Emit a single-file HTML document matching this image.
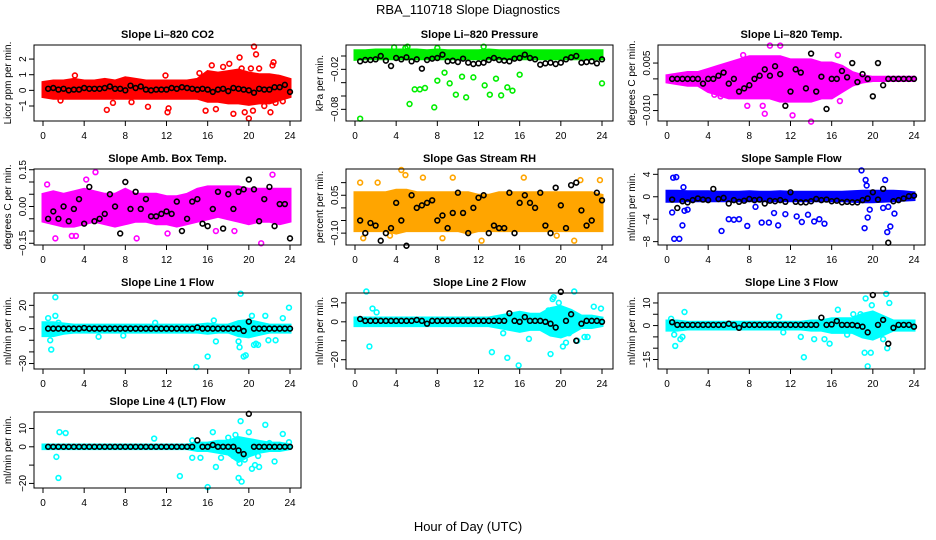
<!DOCTYPE html>
<html><head><meta charset="utf-8">
<style>
html,body{margin:0;padding:0;background:#fff;}
svg{display:block;font-family:"Liberation Sans",Arial,sans-serif;}
</style></head>
<body>
<svg id="chart" width="936" height="540" viewBox="0 0 936 540">
<text x="468" y="14" text-anchor="middle" font-size="13">RBA_110718  Slope Diagnostics</text>
<text x="468" y="531" text-anchor="middle" font-size="13">Hour of Day (UTC)</text>
</svg>
<script>
// shared data
const blackHours = [0.5,1,1.5,2,2.5,3,3.5,4,4.5,5,5.5,6,6.5,7,7.5,8,8.5,9,9.5,10,10.5,11,11.5,12,12.5,13,13.5,14,14.5,15,15.5,16,16.5,17,17.5,18,18.5,19,19.5,20,20.5,21,21.5,22,22.5,23,23.5,24];
const bandHours = [0,1,2,3,4,5,6,7,8,9,10,11,12,13,14,15,16,17,18,19,20,21,22,23,24];
const xTicks = [0,4,8,12,16,20,24];

// Panel 1: CO2
const co2Black = [0.1,0.15,0.05,0.1,0,0.05,0.05,0.15,0.1,0.1,0.1,0.15,0.25,0.1,0.1,0,0.3,0.15,0.25,0.05,0,0.05,0.05,0.05,0.15,0.1,0.2,0.15,0.1,0.05,0.1,0.05,-0.1,0.05,0.1,-0.05,0.15,0.1,0.05,0,-0.15,0.1,0.05,0.05,0.2,0.2,0.35,-0.1];
const co2Lo = [-0.4,-0.5,-0.5,-0.5,-0.5,-0.5,-0.5,-0.5,-0.5,-0.5,-0.5,-0.5,-0.5,-0.5,-0.5,-0.5,-0.7,-0.7,-0.8,-0.8,-0.9,-0.8,-0.8,-0.6,-0.4];
const co2Hi = [0.5,0.6,0.6,0.7,0.6,0.6,0.7,0.6,0.8,0.7,0.6,0.6,0.6,0.6,0.6,0.7,1.2,1.1,1.2,1.3,1.1,1.0,1.0,0.9,0.7];
const co2OutX = [1.7,3.1,6.2,6.8,8.6,10.2,11.9,12.1,12.2,15.2,15.8,16.4,16.8,17.5,18.1,18.5,19.1,19.3,19.6,20.0,20.4,20.5,20.7,21.0,21.5,22.1,22.4,22.3,22.6,22.8,20.2,23.3];
const co2OutY = [-0.65,0.95,-1.25,-0.8,-0.75,-1.05,0.95,-1.4,-1.15,1.1,-1.3,1.6,-1.2,1.5,1.7,-1.5,2.1,1.4,-1.4,-1.8,-1.3,2.8,2.3,1.4,-1.0,-1.4,1.8,1.6,-0.8,0.8,1.4,-0.7];
const co2Ticks = [-1,0,1,2];
const co2Labels = ["\u22121","0","1","2"];

// Panel 2: Pressure
const presBlack = [-0.008,-0.006,-0.006,-0.005,0.0,-0.007,-0.015,-0.003,-0.005,-0.002,-0.008,-0.005,-0.019,-0.006,-0.004,-0.003,0.002,-0.008,-0.007,-0.009,-0.004,-0.010,-0.012,-0.011,-0.010,-0.006,-0.003,-0.006,-0.007,-0.008,-0.004,-0.003,0.002,-0.003,-0.005,-0.013,-0.011,-0.010,-0.012,-0.010,-0.005,-0.002,0.0,-0.010,-0.009,-0.008,-0.011,-0.005];
const presLo = [-0.005,-0.004,-0.004,-0.004,-0.004,-0.004,-0.004,-0.004,-0.004,-0.004,-0.004,-0.004,-0.004,-0.004,-0.004,-0.004,-0.004,-0.004,-0.004,-0.004,-0.004,-0.004,-0.004,-0.004,-0.004];
const presHi = [0.008,0.008,0.009,0.009,0.009,0.009,0.009,0.008,0.009,0.008,0.008,0.008,0.008,0.009,0.008,0.008,0.008,0.008,0.008,0.008,0.008,0.008,0.008,0.008,0.008];
const presOutX = [0.5,5.3,5.8,6.3,6.8,7.7,8.0,8.7,9.2,9.8,10.4,10.8,11.5,12.6,13.1,13.7,14.2,14.8,15.3,16.0,24.0,4.9,3.8,8.0,12.5,5.1];
const presOutY = [-0.094,-0.072,-0.05,-0.05,-0.048,-0.077,-0.037,-0.025,-0.041,-0.058,-0.031,-0.062,-0.032,-0.044,-0.058,-0.034,-0.059,-0.047,-0.052,-0.028,-0.041,0.012,0.013,0.012,0.014,0.014];
const presTicks = [0,-0.02,-0.04,-0.06,-0.08];
const presLabels = ["","\u22120.02","","","\u22120.08"];

// Panel 3: Li-820 Temp
const tempBlack = [0,0,0,0,0,0,-0.0015,0,0,0.001,0.002,-0.0015,0,-0.004,-0.003,-0.002,0,0.001,0.003,0.001,0.004,0.0015,-0.0085,-0.004,0.003,0.002,-0.003,0.008,-0.004,0.0007,-0.0095,0,0,0.0025,0.0005,0.005,-0.001,0.0015,0,-0.0055,0.005,-0.002,0,0,0,0,0,0];
const tempLo = [-0.001,-0.0015,-0.002,-0.002,-0.004,-0.005,-0.006,-0.006,-0.006,-0.006,-0.006,-0.007,-0.007,-0.007,-0.007,-0.006,-0.006,-0.004,-0.002,-0.001,-0.0005,-0.0005,-0.0005,-0.0005,-0.0005];
const tempHi = [0.001,0.0015,0.002,0.002,0.003,0.004,0.005,0.006,0.007,0.007,0.007,0.007,0.006,0.006,0.006,0.005,0.005,0.004,0.002,0.001,0.0005,0.0005,0.0005,0.0005,0.0005];
const tempOutX = [9.5,14.0,7.8,9.3,10.0,11.0,7.4,12.2,16.6,16.8,4.6,5.2];
const tempOutY = [-0.011,-0.0135,-0.0085,-0.0085,0.0105,0.0105,0.0075,-0.0115,0.0075,-0.007,-0.005,-0.0055];
const tempTicks = [0.005,0,-0.005,-0.010];
const tempLabels = ["0.005","","","\u22120.010"];

// Panel 4: Amb Box Temp
const ambBlack = [-0.05,-0.02,-0.05,0,-0.06,-0.01,0.03,-0.07,0.08,-0.06,-0.05,-0.03,0.05,0,-0.11,0.1,-0.01,0.06,-0.01,0.03,-0.04,-0.04,-0.03,-0.02,-0.03,0.02,-0.1,-0.05,0.02,0.03,-0.07,-0.08,-0.01,0.06,-0.09,0.05,-0.01,0.06,0.07,0.11,0.07,-0.06,0.03,0.08,-0.08,0.01,0.01,-0.13];
const ambLo = [-0.06,-0.07,-0.08,-0.08,-0.07,-0.06,-0.07,-0.08,-0.07,-0.06,-0.06,-0.07,-0.07,-0.08,-0.07,-0.06,-0.05,-0.04,-0.05,-0.06,-0.07,-0.06,-0.06,-0.07,-0.06];
const ambHi = [0.05,0.06,0.05,0.06,0.07,0.06,0.05,0.05,0.07,0.05,0.05,0.05,0.04,0.04,0.05,0.07,0.08,0.08,0.08,0.08,0.07,0.07,0.07,0.07,0.07];
const ambOutX = [1.2,5.1,9.1,21.2,22.3,0.4,16.8,18.6,2.8,3.2,12.1,4.2];
const ambOutY = [-0.13,0.14,-0.13,-0.15,0.13,0.09,-0.1,-0.1,-0.12,-0.12,-0.11,0.11];
const ambTicks = [0.15,0.10,0.05,0,-0.05,-0.10,-0.15];
const ambLabels = ["0.15","","","0.00","","","\u22120.15"];

// Panel 5: Gas Stream RH
const rhBlack = [-0.05,-0.1,-0.06,-0.07,-0.13,-0.1,-0.08,0.02,-0.05,-0.15,0.05,0.0,0.01,0.02,0.03,-0.05,-0.03,-0.08,-0.02,0.06,-0.02,-0.1,0.0,0.04,0.05,-0.1,-0.07,-0.08,-0.08,0.06,-0.1,0.02,0.05,0.02,0.0,0.06,-0.07,-0.1,0.08,0.01,-0.08,0.09,0.1,-0.01,-0.07,-0.05,0.06,0.03];
const rhLo = [-0.09,-0.09,-0.09,-0.09,-0.1,-0.09,-0.09,-0.09,-0.09,-0.09,-0.09,-0.1,-0.09,-0.09,-0.09,-0.09,-0.09,-0.09,-0.09,-0.09,-0.09,-0.09,-0.09,-0.09,-0.09];
const rhHi = [0.06,0.06,0.06,0.06,0.07,0.07,0.06,0.06,0.06,0.06,0.06,0.06,0.05,0.05,0.06,0.06,0.06,0.06,0.06,0.06,0.06,0.06,0.06,0.06,0.05];
const rhOutX = [4.5,4.9,9.5,16.4,0.8,3.4,12.3,21.3,6.6,8.5,0.5,2.2,19.6,21.9,23.8];
const rhOutY = [0.15,0.13,0.12,0.12,-0.12,-0.11,-0.13,-0.13,0.12,-0.12,0.1,0.1,-0.11,0.11,0.11];
const rhTicks = [0.10,0.05,0,-0.05,-0.10];
const rhLabels = ["","0.05","","","\u22120.10"];

// Panel 6: Sample Flow
const sfBlack = [-0.5,-2,-0.8,-1,-0.6,-0.3,-0.5,-0.6,1.4,-0.4,-0.2,-1.2,-0.6,-0.9,-0.7,-0.4,-0.6,-0.5,-1.2,-0.7,-0.8,-0.6,-0.9,0.8,-0.9,-1,-1,-0.8,-0.4,-0.6,-0.5,-0.8,-0.7,-1,-0.9,-1,-1,-0.6,-0.3,0.8,-0.5,1.4,-8.2,-0.8,-0.6,-0.3,0.1,0.2];
const sfLo = [-0.8,-0.8,-0.7,-0.7,-0.7,-0.7,-0.7,-0.7,-0.7,-0.7,-0.7,-0.7,-0.7,-0.7,-0.7,-0.7,-0.7,-0.7,-0.8,-0.9,-0.9,-0.8,-0.7,-0.6,-0.5];
const sfHi = [1.0,1.0,0.9,0.9,0.9,0.8,0.8,0.8,0.9,0.8,0.8,0.9,0.8,0.8,0.8,0.8,0.8,0.8,0.9,1.0,1.0,1.0,1.0,0.9,0.7];
const sfOutX = [0.5,0.7,0.6,0.9,1.2,1.5,1.7,2.0,1.6,5.3,6.0,6.5,7.0,7.8,8.6,9.2,9.9,10.4,10.8,11.5,12.6,13.1,13.7,14.3,14.8,15.3,18.9,19.3,19.4,19.2,19.5,19.7,21.2,21.4,21.5,21.7,22.1,21.0];
const sfOutY = [-2.8,-7.5,3.4,3.5,-7.5,-5.1,-2.5,-2.3,1.7,-6.1,-4.0,-4.1,-4.0,-5.2,-1.8,-4.6,-4.6,-2.9,-5.1,-3.1,-3.5,-4.5,-3.2,-4.4,-4.0,-4.8,4.7,3.0,2.0,-5.6,-3.7,-2.3,3.0,-6.3,-1.8,-5.3,-3.0,-2.0];
const sfTicks = [4,0,-4,-8];
const sfLabels = ["4","0","\u22124","\u22128"];

// Panel 7: Line 1 Flow
const l1Black = [0,0,0,0,0,0,0,0.5,0,0,0,0,0,0,0,0,0,0,0,0,0,0,0,0,0,0,0,0,0,1,0,0,0,0,0,0,0,0,-2,6,0,0,0,0,0,0,0,0];
const l1Lo = [-6,-6,-4,-3,-3,-3,-3,-3,-3,-3,-3,-3,-3,-3,-3,-3,-4,-3,-3,-6,-7,-5,-3,-3,-3];
const l1Hi = [5,5,4,3,3,3,3,3,3,3,3,3,3,3,3,3,4,3,3,6,7,5,3,3,3];
const l1OutX = [1.2,0.5,1.2,0.8,0.7,1.5,14.9,16.0,16.6,16.8,19.2,19.1,19.5,19.7,20.3,20.5,20.7,20.9,21.6,21.9,22.6,23.3,23.9,19.0,5.4,7.8,10.9];
const l1OutY = [27,9,11,-18,-10,5,-33,-24,7,-11,30,-16,-24,-23,11,-14,-13,-14,11,-10,-10,9,18,-11,-7,-6,5];
const l1Ticks = [20,10,0,-10,-20,-30];
const l1Labels = ["20","","0","","","\u221230"];

// Panel 8: Line 2 Flow
const l2Black = [1.5,0.5,0.5,0.5,0.5,0.5,0.5,0.5,0.5,0.5,0.5,1,0.5,-1,0.5,0.5,0.5,0.5,0.5,0.5,0.5,0.5,0.5,0.5,0.5,0.5,0.5,0.5,0.5,4.5,0.5,0,2.5,0.5,0.5,0.5,0,-1,-3,15.8,0.5,4,-10,-1,0.5,0.5,0.5,0];
const l2Lo = [-2,-2,-2,-2,-2,-2,-2,-2,-2,-2,-2,-2,-2,-2,-3,-4,-5,-4,-4,-7,-8,-6,-3,-3,-2];
const l2Hi = [2,2,2,2,2,2,2,2,2,2,2,2,2,2,3,4,5,4,4,7,8,6,3,3,2];
const l2OutX = [1.1,1.4,1.7,2.1,13.3,14.4,14.8,15.9,16.9,19.0,19.2,19.3,19.8,19.9,20.2,20.5,20.8,21.3,21.6,22.3,22.6,23.2,23.9,18.8];
const l2OutY = [16,-13,7,5,-16,-6,-19,-23,-9,-17,12,13,10,7,-13,-11,-6,16,-10,-8,-8,8,7,6];
const l2Ticks = [10,0,-10,-20];
const l2Labels = ["10","0","","\u221220"];

// Panel 9: Line 3 Flow
const l3Black = [1.5,0.3,0.3,0.3,0.3,0.3,0.3,0.3,0.3,0.3,0.3,0.8,0.3,-1,0.3,0.3,0.3,0.3,0.3,0.3,0.3,0.3,0.3,0.3,0.3,0.3,0.3,0.3,0.3,3.5,0.3,0.5,2,0.3,0.3,0.3,0,-0.5,-3,13.5,0.3,2.5,-8,-1,0.3,0.3,0.3,-0.5];
const l3Lo = [-2,-2,-1.5,-1.5,-1.5,-1.5,-1.5,-1.5,-1.5,-1.5,-1.5,-1.5,-1.5,-1.5,-2,-2,-3,-3,-3,-5,-6,-4,-2,-2,-2];
const l3Hi = [2,2,1.5,1.5,1.5,1.5,1.5,1.5,1.5,1.5,1.5,1.5,1.5,1.5,2,2,3,3,3,5,6,4,2,2,2];
const l3OutX = [0.4,0.7,0.8,1.3,1.5,1.7,10.9,11.3,13.0,13.3,14.3,15.3,15.8,16.6,17.5,18.1,18.8,19.2,19.5,19.3,19.8,19.9,21.0,21.3,21.6,21.4,20.5];
const l3OutY = [3,-4,-9,-6,-5,6,4,-3,-5,-14,-6,-6,-8,7,-4,5,5,-12,-18,12,-12,9,-6,14,10,-10,-4];
const l3Ticks = [10,5,0,-5,-10,-15];
const l3Labels = ["10","","0","","","\u221215"];

// Panel 10: Line 4 (LT) Flow
const l4Black = [0,0,0,0,0,0,0,0,0,0,0,0,0,0,0,0,0,0,0,0,0,0,0,0,0,0,0,0,0,3.5,0,0,1,0,0,0,0,-2,-4,18,0,0,0,0,0,0,0,0];
const l4Lo = [-1,-1,-1,-1,-1,-1,-1,-1,-1,-1,-1,-1,-1,-1,-1,-2,-2,-3,-4,-8,-5,-3,-2,-2,-1];
const l4Hi = [1,1,1,1,1,1,1,1,1,1,1,1,1,1,1,2,2,3,3,5,4,3,2,2,1];
const l4OutX = [1.3,1.5,1.6,2.2,10.8,13.3,14.5,14.5,15.3,16.0,16.5,16.8,17.3,18.0,18.5,18.7,19.0,19.3,19.2,19.1,20.0,20.3,20.6,21.0,21.6,22.0,22.5,23.3,23.9,20.9,19.6];
const l4OutY = [-5.5,-17,8,7.5,4.5,-16,-6,3.5,-6,-22,8,-11,-6,5,-5,6.5,-17,-19,14,-9,8,-12,-10,-11,12,2,-8,7,2.5,-5,-7];
const l4Ticks = [10,0,-10,-20];
const l4Labels = ["10","0","","\u221220"];

const NS = "http://www.w3.org/2000/svg";
const svg = document.getElementById("chart");
const colLeft = [34, 346, 658];
const rowTop = [45, 169, 293, 412];
const BOXW = 267, BOXH = 76;

function mk(tag, attrs, parent) {
  const e = document.createElementNS(NS, tag);
  for (const k in attrs) e.setAttribute(k, attrs[k]);
  (parent || svg).appendChild(e);
  return e;
}

function drawPanel(p) {
  const L = colLeft[p.col], T = rowTop[p.row];
  const g = mk("g", {});
  
  
  const xs = h => L + 9 + h * (247 / 24);
  const ys = v => T + (p.ymax - v) / (p.ymax - p.ymin) * BOXH;

  const t = mk("text", {x: L + BOXW / 2, y: T - 7, "text-anchor": "middle", "font-size": 11, "font-weight": "bold"}, g);
  t.textContent = p.title;
  
  

  const yl = mk("text", {x: 0, y: 0, "text-anchor": "middle", "font-size": 10, transform: "translate(" + (L - 23) + "," + (T + BOXH / 2) + ") rotate(-90)"}, g);
  yl.textContent = p.ylab;
  
  

  // band
  let d = "";
  for (let i = 0; i < bandHours.length; i++) d += (i ? "L" : "M") + xs(bandHours[i]).toFixed(1) + "," + ys(p.hi[i]).toFixed(1);
  for (let i = bandHours.length - 1; i >= 0; i--) d += "L" + xs(bandHours[i]).toFixed(1) + "," + ys(p.lo[i]).toFixed(1);
  const band = mk("path", {d: d + "Z", fill: p.color, stroke: p.color, "stroke-width": 3}, g);
  
  

  for (let i = 0; i < p.outX.length; i++) {
    const c = mk("circle", {cx: xs(p.outX[i]), cy: ys(p.outY[i]), r: 2.4, fill: "none", stroke: p.color, "stroke-width": 1.6}, g);
    
    
  }
  for (let i = 0; i < p.black.length && i < blackHours.length; i++) {
    const c = mk("circle", {cx: xs(blackHours[i]), cy: ys(p.black[i]), r: 2.4, fill: "none", stroke: "#000", "stroke-width": 1.6}, g);
    
    
  }

  const box = mk("rect", {x: L, y: T, width: BOXW, height: BOXH, fill: "none", stroke: "#000", "stroke-width": 1}, g);
  
  

  // x axis
  for (const h of xTicks) {
    mk("line", {x1: xs(h), x2: xs(h), y1: T + BOXH, y2: T + BOXH + 5, stroke: "#000"}, g);
    const tl = mk("text", {x: xs(h), y: T + BOXH + 18, "text-anchor": "middle", "font-size": 10}, g);
    tl.textContent = h;
    
    
  }
  // y axis
  for (let i = 0; i < p.ticks.length; i++) {
    const y = ys(p.ticks[i]);
    mk("line", {x1: L - 5, x2: L, y1: y, y2: y, stroke: "#000"}, g);
    if (p.labels[i]) {
      const tl = mk("text", {x: 0, y: 0, "text-anchor": "middle", "font-size": 10, transform: "translate(" + (L - 8) + "," + y + ") rotate(-90)"}, g);
      tl.textContent = p.labels[i];
      
      
    }
  }
}

const panels = [
  {name:"co2", title:"Slope Li\u2013820 CO2", ylab:"Licor ppm per min.", col:0,row:0, ymin:-1.96,ymax:2.9, color:"#ff0000", black:co2Black, lo:co2Lo, hi:co2Hi, outX:co2OutX, outY:co2OutY, ticks:co2Ticks, labels:co2Labels},
  {name:"pressure", title:"Slope Li\u2013820 Pressure", ylab:"kPa per min.", col:1,row:0, ymin:-0.0975,ymax:0.0165, color:"#00ee00", black:presBlack, lo:presLo, hi:presHi, outX:presOutX, outY:presOutY, ticks:presTicks, labels:presLabels},
  {name:"li820-temp", title:"Slope Li\u2013820 Temp.", ylab:"degrees C per min.", col:2,row:0, ymin:-0.0133,ymax:0.0107, color:"#ff00ff", black:tempBlack, lo:tempLo, hi:tempHi, outX:tempOutX, outY:tempOutY, ticks:tempTicks, labels:tempLabels},
  {name:"amb-box-temp", title:"Slope Amb. Box Temp.", ylab:"degrees C per min.", col:0,row:1, ymin:-0.157,ymax:0.153, color:"#ff00ff", black:ambBlack, lo:ambLo, hi:ambHi, outX:ambOutX, outY:ambOutY, ticks:ambTicks, labels:ambLabels},
  {name:"gas-stream-rh", title:"Slope Gas Stream RH", ylab:"percent per min.", col:1,row:1, ymin:-0.147,ymax:0.154, color:"#ffa500", black:rhBlack, lo:rhLo, hi:rhHi, outX:rhOutX, outY:rhOutY, ticks:rhTicks, labels:rhLabels},
  {name:"sample-flow", title:"Slope Sample Flow", ylab:"ml/min per min.", col:2,row:1, ymin:-8.6,ymax:4.95, color:"#0000ff", black:sfBlack, lo:sfLo, hi:sfHi, outX:sfOutX, outY:sfOutY, ticks:sfTicks, labels:sfLabels},
  {name:"line1-flow", title:"Slope Line 1 Flow", ylab:"ml/min per min.", col:0,row:2, ymin:-34.7,ymax:30.6, color:"#00ffff", black:l1Black, lo:l1Lo, hi:l1Hi, outX:l1OutX, outY:l1OutY, ticks:l1Ticks, labels:l1Labels},
  {name:"line2-flow", title:"Slope Line 2 Flow", ylab:"ml/min per min.", col:1,row:2, ymin:-24.9,ymax:15.2, color:"#00ffff", black:l2Black, lo:l2Lo, hi:l2Hi, outX:l2OutX, outY:l2OutY, ticks:l2Ticks, labels:l2Labels},
  {name:"line3-flow", title:"Slope Line 3 Flow", ylab:"ml/min per min.", col:2,row:2, ymin:-19.2,ymax:14.4, color:"#00ffff", black:l3Black, lo:l3Lo, hi:l3Hi, outX:l3OutX, outY:l3OutY, ticks:l3Ticks, labels:l3Labels},
  {name:"line4-flow", title:"Slope Line 4 (LT) Flow", ylab:"ml/min per min.", col:0,row:3, ymin:-22.5,ymax:19, color:"#00ffff", black:l4Black, lo:l4Lo, hi:l4Hi, outX:l4OutX, outY:l4OutY, ticks:l4Ticks, labels:l4Labels}
];
panels.forEach(drawPanel);
</script>
</body></html>
